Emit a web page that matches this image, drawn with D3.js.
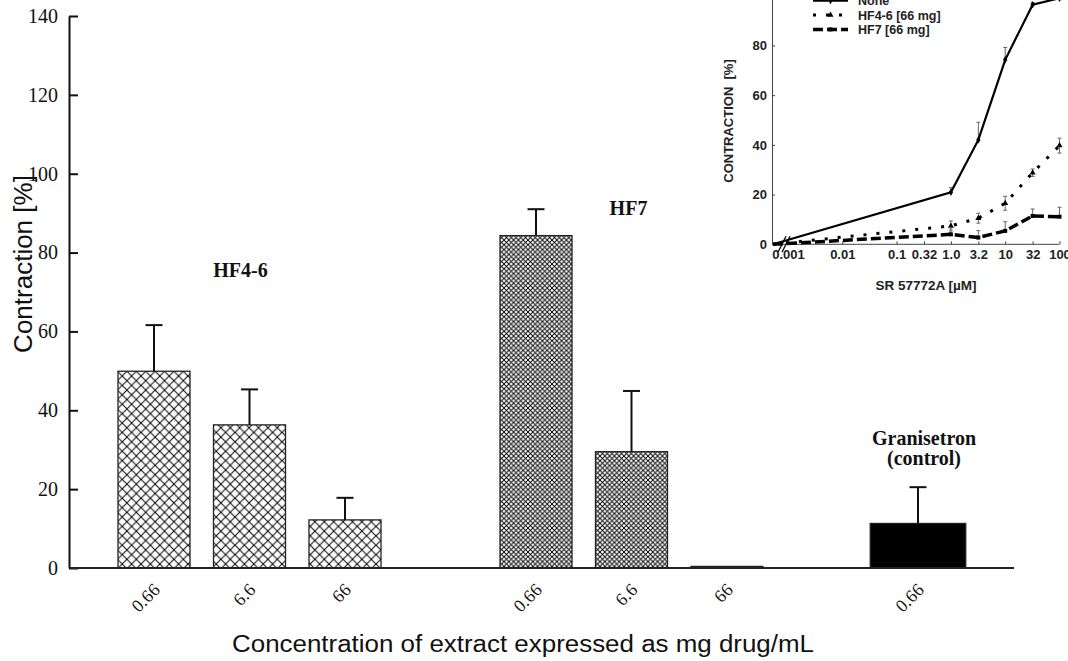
<!DOCTYPE html>
<html>
<head>
<meta charset="utf-8">
<script src="https://cdn.jsdelivr.net/npm/d3@7"></script>
<style>
  body { margin: 0; background: #fff; }
  svg { display: block; }
</style>
</head>
<body>
<svg id="chart" width="1068" height="661"></svg>
<script>
// ---- Bar panel: contraction vs extract concentration ----
const groups = ["HF4-6", "HF7", "Granisetron"];
const groupTitles = [["HF4-6"], ["HF7"], ["Granisetron", "(control)"]];
const barGroups = ["HF4-6", "HF4-6", "HF4-6", "HF7", "HF7", "HF7", "Granisetron"];
const doseLabels = ["0.66", "6.6", "66", "0.66", "6.6", "66", "0.66"];
const contraction = [49.9, 36.3, 12.2, 84.3, 29.5, 0.4, 11.3];
const contractionSem = [11.7, 9.0, 5.6, 6.7, 15.4, 0, 9.2];
const yTicks = [0, 20, 40, 60, 80, 100, 120, 140];

// ---- Inset: concentration-response to SR 57772A ----
const insetDoses = [0, 1.0, 3.2, 10, 32, 100];
const insetSeriesNames = ["None", "HF4-6 [66 mg]", "HF7 [66 mg]"];
const noneValues = [0, 20.9, 42.0, 74.2, 96.4, 99.0];
const noneSem = [0, 1.9, 7.1, 5.0, 0.8, 0];
const hf46Values = [0, 7.4, 10.5, 16.5, 28.8, 39.7];
const hf46Sem = [0, 2.0, 2.0, 2.8, 1.5, 3.0];
const hf7Values = [0, 4.0, 2.7, 5.4, 11.4, 11.1];
const hf7Sem = [0, 2.6, 2.8, 3.7, 2.8, 3.8];
const insetXTicks = [0.001, 0.01, 0.1, 0.32, 1, 3.2, 10, 32, 100];
const insetXTickLabels = ["0.001", "0.01", "0.1", "0.32", "1.0", "3.2", "10", "32", "100"];
const insetYTicks = [0, 20, 40, 60, 80, 100];

const svg = d3.select("#chart");
const serif = "'Liberation Serif', 'Times New Roman', serif";
const sans = "'Liberation Sans', Arial, sans-serif";

// Hatch patterns
const defs = svg.append("defs");
function crossHatch(id, size, width) {
  const p = defs.append("pattern").attr("id", id)
    .attr("patternUnits", "userSpaceOnUse")
    .attr("width", size).attr("height", size);
  p.append("rect").attr("width", size).attr("height", size).attr("fill", "#fff");
  const g = p.append("g").attr("stroke", "#111").attr("stroke-width", width);
  g.append("line").attr("x1", -1).attr("y1", -1).attr("x2", size + 1).attr("y2", size + 1);
  g.append("line").attr("x1", -1).attr("y1", size + 1).attr("x2", size + 1).attr("y2", -1);
}
crossHatch("hatch-coarse", 9.4, 1.1);
crossHatch("hatch-fine", 4.8, 1.0);
const groupFill = { "HF4-6": "url(#hatch-coarse)", "HF7": "url(#hatch-fine)", "Granisetron": "#000" };

// Bar records and slot layout (one empty slot between groups)
const bars = contraction.map((v, i) => ({
  id: barGroups[i] + "|" + i, group: barGroups[i], dose: doseLabels[i],
  value: v, sem: contractionSem[i]
}));
const slots = [];
groups.forEach((g, gi) => {
  if (gi > 0) slots.push("gap" + gi);
  bars.filter(b => b.group === g).forEach(b => slots.push(b.id));
});

const x = d3.scaleBand().domain(slots).range([106.25, 965.75])
  .paddingInner(0.246).paddingOuter(0.123);
const y = d3.scaleLinear().domain([0, 140]).range([568, 16]);
const axisLeftX = 69, axisRightX = 1014;
const barWidth = d => d.group === "Granisetron" ? x.step() : x.bandwidth();
const cx = d => x(d.id) + x.bandwidth() / 2;

// Bars
svg.append("g").selectAll("rect").data(bars).join("rect")
  .attr("x", d => cx(d) - barWidth(d) / 2)
  .attr("y", d => y(d.value))
  .attr("width", d => barWidth(d))
  .attr("height", d => y(0) - y(d.value))
  .attr("fill", d => groupFill[d.group])
  .attr("stroke", "#222").attr("stroke-width", 1.3);

// Error bars (upper SEM)
const eb = svg.append("g").attr("stroke", "#111").attr("stroke-width", 2)
  .selectAll("g").data(bars.filter(d => d.sem > 0)).join("g");
eb.append("line").attr("x1", cx).attr("x2", cx)
  .attr("y1", d => y(d.value)).attr("y2", d => y(d.value + d.sem));
eb.append("line").attr("x1", d => cx(d) - 8.5).attr("x2", d => cx(d) + 8.5)
  .attr("y1", d => y(d.value + d.sem)).attr("y2", d => y(d.value + d.sem));

// Y axis
const yAxis = svg.append("g").attr("transform", `translate(${axisLeftX},0)`)
  .call(d3.axisLeft(y).tickValues(yTicks).tickSize(-9).tickSizeOuter(0).tickPadding(11));
yAxis.select(".domain").attr("stroke", "#111").attr("stroke-width", 2);
yAxis.selectAll(".tick line").attr("stroke", "#111").attr("stroke-width", 2);
yAxis.selectAll(".tick text").attr("font-family", serif).attr("font-size", 20).attr("fill", "#111");

// X axis baseline and dose labels
svg.append("line").attr("x1", axisLeftX).attr("x2", axisRightX)
  .attr("y1", y(0)).attr("y2", y(0)).attr("stroke", "#222").attr("stroke-width", 2.2);
const xAxis = svg.append("g").attr("transform", `translate(0,${y(0)})`)
  .call(d3.axisBottom(x).tickValues(bars.map(b => b.id))
    .tickFormat(id => bars.find(b => b.id === id).dose).tickSize(0));
xAxis.select(".domain").remove();
xAxis.selectAll(".tick text")
  .attr("font-family", serif).attr("font-size", 18).attr("fill", "#111")
  .attr("text-anchor", "end").attr("dy", null).attr("y", 0)
  .attr("transform", "translate(7,23) rotate(-45)");

// Group titles
const titleLayout = { "HF4-6": { dx: -9, v: 73.8 }, "HF7": { dx: -3, v: 89.5 }, "Granisetron": { dx: 6, v: 31.2 } };
groups.forEach((g, gi) => {
  const members = bars.filter(b => b.group === g);
  const mid = members[Math.floor((members.length - 1) / 2)];
  const lay = titleLayout[g];
  const t = svg.append("text")
    .attr("x", cx(mid) + lay.dx).attr("y", y(lay.v))
    .attr("text-anchor", "middle").attr("font-family", serif)
    .attr("font-weight", "bold").attr("font-size", 20).attr("fill", "#111");
  groupTitles[gi].forEach((line, li) => {
    t.append("tspan").attr("x", cx(mid) + lay.dx).attr("dy", li === 0 ? 0 : 20).text(line);
  });
});

// Axis titles
svg.append("text").attr("transform", "translate(32,264) rotate(-90)")
  .attr("text-anchor", "middle").attr("font-family", sans).attr("font-size", 26)
  .attr("fill", "#111").text("Contraction [%]");
svg.append("text").attr("x", 523).attr("y", 652)
  .attr("text-anchor", "middle").attr("font-family", sans).attr("font-size", 23)
  .attr("textLength", 582).attr("lengthAdjust", "spacingAndGlyphs")
  .attr("fill", "#111").text("Concentration of extract expressed as mg drug/mL");

// ---- Inset ----
const inset = svg.append("g");
const insetAxisX = 772;
const ix = d3.scaleLog().domain([0.001, 100]).range([788, 1059.5]);
const iy = d3.scaleLinear().domain([0, 100]).range([244.3, -4.3]);
const ipx = d => d === 0 ? insetAxisX + 1 : ix(d);

// inset y axis
const iyAxis = inset.append("g").attr("transform", `translate(${insetAxisX},0)`)
  .call(d3.axisLeft(iy).tickValues(insetYTicks).tickSize(-3).tickSizeOuter(0).tickPadding(5));
iyAxis.select(".domain").attr("stroke", "#444").attr("stroke-width", 1);
iyAxis.selectAll(".tick line").attr("stroke", "#444");
iyAxis.selectAll(".tick text").attr("font-family", sans).attr("font-weight", "bold")
  .attr("font-size", 13).attr("fill", "#222");

// inset x axis
inset.append("line").attr("x1", insetAxisX).attr("x2", ix.range()[1])
  .attr("y1", iy(0)).attr("y2", iy(0)).attr("stroke", "#444").attr("stroke-width", 1);
const ixAxis = inset.append("g").attr("transform", `translate(0,${iy(0)})`)
  .call(d3.axisBottom(ix).tickValues(insetXTicks)
    .tickFormat((d, i) => insetXTickLabels[i]).tickSize(-3).tickPadding(5));
ixAxis.select(".domain").remove();
ixAxis.selectAll(".tick line").attr("stroke", "#444");
ixAxis.selectAll(".tick text").attr("font-family", sans).attr("font-weight", "bold")
  .attr("font-size", 13).attr("fill", "#222");

// axis break marks
const bx = ix(0.001) - 6, by = iy(0);
inset.append("g").attr("stroke", "#111").attr("stroke-width", 1.4)
  .selectAll("line").data([0, 4]).join("line")
  .attr("x1", d => bx + d - 4).attr("y1", by + 8)
  .attr("x2", d => bx + d + 4).attr("y2", by - 8);

// inset axis titles
inset.append("text").attr("transform", "translate(733,121) rotate(-90)")
  .attr("text-anchor", "middle").attr("font-family", sans).attr("font-weight", "bold")
  .attr("font-size", 13).attr("fill", "#222").style("white-space", "pre")
  .text("CONTRACTION  [%]");
inset.append("text").attr("x", 926).attr("y", 290)
  .attr("text-anchor", "middle").attr("font-family", sans).attr("font-weight", "bold")
  .attr("font-size", 13.5).attr("fill", "#222").text("SR 57772A [µM]");

// inset series
const series = [
  { name: insetSeriesNames[0], values: noneValues, sem: noneSem, both: false,
    width: 2.2, dash: null, symbol: d3.symbolDiamond },
  { name: insetSeriesNames[1], values: hf46Values, sem: hf46Sem, both: true,
    width: 3, dash: "3,10", symbol: d3.symbolTriangle },
  { name: insetSeriesNames[2], values: hf7Values, sem: hf7Sem, both: false,
    width: 3.5, dash: "10,4", symbol: d3.symbolSquare }
];
const line = d3.line().x(d => ipx(d.dose)).y(d => iy(d.v));
series.forEach(s => {
  const pts = insetDoses.map((dose, i) => ({ dose, v: s.values[i], e: s.sem[i] }));
  // error bars
  const eg = inset.append("g").attr("stroke", "#666").attr("stroke-width", 1);
  pts.filter(p => p.e > 0).forEach(p => {
    const xx = ipx(p.dose);
    const lo = s.both ? p.v - p.e : p.v;
    eg.append("line").attr("x1", xx).attr("x2", xx).attr("y1", iy(lo)).attr("y2", iy(p.v + p.e));
    eg.append("line").attr("x1", xx - 2).attr("x2", xx + 2).attr("y1", iy(p.v + p.e)).attr("y2", iy(p.v + p.e));
    if (s.both) eg.append("line").attr("x1", xx - 2).attr("x2", xx + 2).attr("y1", iy(lo)).attr("y2", iy(lo));
  });
  inset.append("path").datum(pts).attr("d", line)
    .attr("fill", "none").attr("stroke", "#000").attr("stroke-width", s.width)
    .attr("stroke-dasharray", s.dash);
  inset.append("g").selectAll("path").data(pts.filter(p => p.dose > 0)).join("path")
    .attr("d", d3.symbol().type(s.symbol).size(16))
    .attr("transform", p => `translate(${ipx(p.dose)},${iy(p.v)})`)
    .attr("fill", "#000");
});

// inset legend
const legendTop = 0.6, legendGap = 14.4, lx0 = 813, lx1 = 848, ltx = 858;
series.forEach((s, i) => {
  const ly = legendTop + i * legendGap;
  inset.append("line").attr("x1", lx0).attr("x2", lx1).attr("y1", ly).attr("y2", ly)
    .attr("stroke", "#000").attr("stroke-width", s.width).attr("stroke-dasharray", s.dash);
  inset.append("path").attr("d", d3.symbol().type(s.symbol).size(16)())
    .attr("transform", `translate(${(lx0 + lx1) / 2},${ly})`).attr("fill", "#000");
  inset.append("text").attr("x", ltx).attr("y", ly + 4.6)
    .attr("font-family", sans).attr("font-weight", "bold").attr("font-size", 12.5)
    .attr("fill", "#222").text(s.name);
});
</script>
</body>
</html>
